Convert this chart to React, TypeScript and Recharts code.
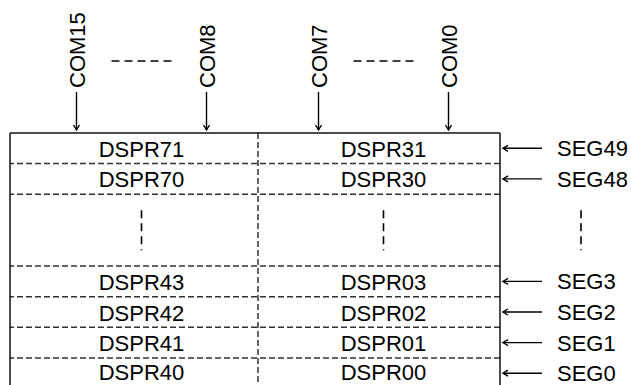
import React from 'react';
import { BarChart, Bar, XAxis, YAxis, ReferenceLine, LabelList } from 'recharts';

// ---- data ----
const columnNames = ['COM15–COM8', 'COM7–COM0'];
const comPairs = [
  ['COM15', 'COM8'],
  ['COM7', 'COM0'],
];
const leftCells = ['DSPR71', 'DSPR70', '', 'DSPR43', 'DSPR42', 'DSPR41', 'DSPR40'];
const rightCells = ['DSPR31', 'DSPR30', '', 'DSPR03', 'DSPR02', 'DSPR01', 'DSPR00'];
const segLabels = ['SEG49', 'SEG48', '', 'SEG3', 'SEG2', 'SEG1', 'SEG0'];
const rowSpans = [1, 1, 2.35, 1, 1, 1, 1];
const gapRow = 2;
const visibleRows = 8.235;

// ---- derived ----
const cellTexts = [leftCells, rightCells];
const rowKeys = rowSpans.map((_, i) => `row${i}`);
const rowBounds = rowSpans.reduce<number[]>((acc, s) => [...acc, acc[acc.length - 1] + s], [0]);
const rowCenters = rowSpans.map((s, i) => rowBounds[i] + s / 2);
const innerBounds = rowBounds.slice(1, -1);

const data = columnNames.map((name) => {
  const d: Record<string, any> = { col: name };
  rowSpans.forEach((s, i) => {
    d[rowKeys[i]] = s;
  });
  return d;
});

// ---- style ----
const FONT = '"Liberation Sans", Arial, sans-serif';
const FS = 22;
const SHIFT = 4.5;
const COM_OFFSET = 65;
const INK = '#000';
const GRID = '#333';

const VMarker = ({ x, y }: { x: number; y: number }) => (
  <line x1={x} y1={y - 20} x2={x} y2={y + 20} stroke={INK} strokeWidth={1.6} strokeDasharray="8 5" />
);

const ComTick = (props: any) => {
  const { x, y, index } = props;
  const cx = x + SHIFT;
  const pair = comPairs[index] || [];
  return (
    <g>
      {pair.map((label: string, k: number) => {
        const lx = cx + (k === 0 ? -COM_OFFSET : COM_OFFSET);
        const bx = lx + 8;
        const by = y - 45;
        return (
          <g key={label}>
            <text
              x={bx}
              y={by}
              transform={`rotate(-90 ${bx} ${by})`}
              fontSize={FS}
              fontFamily={FONT}
              fill={INK}
            >
              {label}
            </text>
            <line x1={lx} y1={y - 41} x2={lx} y2={y - 3} stroke={INK} strokeWidth={1.4} />
            <polyline
              points={`${lx - 3},${y - 8} ${lx},${y - 3} ${lx + 3},${y - 8}`}
              fill="none"
              stroke={INK}
              strokeWidth={1.4}
            />
          </g>
        );
      })}
      <line x1={cx - 30} y1={y - 72} x2={cx + 30} y2={y - 72} stroke={INK} strokeWidth={1.6} strokeDasharray="8 5" />
    </g>
  );
};

const SegTick = (props: any) => {
  const { x, y, index } = props;
  if (index === gapRow) return <VMarker x={x + 81} y={y} />;
  const label = segLabels[index];
  return (
    <g>
      <line x1={x + 42} y1={y} x2={x + 3} y2={y} stroke={INK} strokeWidth={1.4} />
      <polyline
        points={`${x + 8},${y - 3} ${x + 3},${y} ${x + 8},${y + 3}`}
        fill="none"
        stroke={INK}
        strokeWidth={1.4}
      />
      <text x={x + 57} y={y + 8} fontSize={FS} fontFamily={FONT} fill={INK}>
        {label}
      </text>
    </g>
  );
};

const makeCellLabel = (row: number) => (props: any) => {
  const { x, y, width, height, index } = props;
  const cx = Number(x) + Number(width) / 2 + SHIFT;
  const cy = Number(y) + Number(height) / 2;
  if (row === gapRow) return <VMarker x={cx} y={cy} />;
  return (
    <text x={cx} y={cy + 8.5} textAnchor="middle" fontSize={FS} fontFamily={FONT} fill={INK}>
      {cellTexts[index][row]}
    </text>
  );
};

export default function App() {
  return (
    <div style={{ position: 'absolute', left: 0, top: 0, width: 631, height: 385 }}>
      <BarChart
        width={631}
        height={385}
        data={data}
        margin={{ top: 0, right: 0, bottom: 0, left: 0 }}
        barCategoryGap={0}
        barGap={0}
      >
        <XAxis
          dataKey="col"
          type="category"
          orientation="top"
          height={133}
          padding={{ left: 6, right: 0 }}
          tickLine={false}
          tickSize={0}
          tickMargin={0}
          interval={0}
          axisLine={{ stroke: '#111', strokeWidth: 1.5 }}
          tick={<ComTick />}
        />
        <YAxis
          yAxisId="frame"
          orientation="left"
          width={10}
          type="number"
          domain={[0, visibleRows]}
          allowDataOverflow
          reversed
          tick={false}
          tickLine={false}
          axisLine={{ stroke: '#111', strokeWidth: 1.5 }}
        />
        <YAxis
          yAxisId="seg"
          orientation="right"
          width={131}
          type="number"
          domain={[0, visibleRows]}
          allowDataOverflow
          reversed
          ticks={rowCenters}
          interval={0}
          tickLine={false}
          tickSize={0}
          tickMargin={0}
          axisLine={{ stroke: '#111', strokeWidth: 1.5 }}
          tick={<SegTick />}
        />
        {innerBounds.map((b) => (
          <ReferenceLine
            key={`h${b}`}
            yAxisId="seg"
            y={b}
            stroke={GRID}
            strokeWidth={1.5}
            strokeDasharray="6 3"
          />
        ))}
        <ReferenceLine
          yAxisId="seg"
          x={columnNames[1]}
          position="start"
          stroke={GRID}
          strokeWidth={1.5}
          strokeDasharray="6 3"
        />
        {rowKeys.map((k, i) => (
          <Bar
            key={k}
            yAxisId="seg"
            dataKey={k}
            stackId="table"
            fill="none"
            stroke="none"
            isAnimationActive={false}
          >
            <LabelList dataKey={k} content={makeCellLabel(i)} />
          </Bar>
        ))}
      </BarChart>
    </div>
  );
}
